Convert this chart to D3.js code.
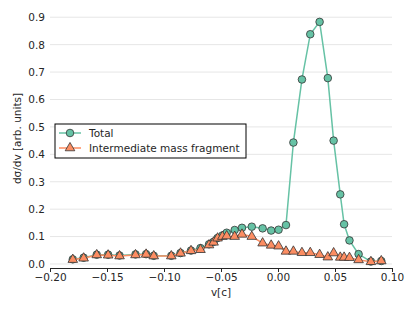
<!DOCTYPE html>
<meta charset="utf-8">
<style>
  body { margin: 0; background: #fff; font-family: 'DejaVu Sans', sans-serif; }
  .axis text { font-size: 10.5px; fill: #262626; font-family: 'DejaVu Sans', sans-serif; }
  .grid line { stroke: #e6e6e6; stroke-width: 1; }
  .axisLabel { font-size: 10.5px; fill: #262626; }
</style>
<body>
<div id="chart"></div>
<script src="https://d3js.org/d3.v7.min.js"></script>
<script>
// velocity bins [c]
var velocity = [-0.18, -0.1705, -0.159, -0.149, -0.139, -0.125, -0.1157, -0.109, -0.0936, -0.0855,
  -0.0763, -0.068, -0.0605, -0.0565, -0.053, -0.0488, -0.045, -0.038, -0.0316, -0.023,
  -0.0135, -0.006, 0.0005, 0.007, 0.0135, 0.021, 0.0283, 0.0365, 0.0437, 0.0488,
  0.0546, 0.058, 0.0627, 0.0707, 0.0815, 0.0906];

var total = [0.017, 0.023, 0.034, 0.034, 0.031, 0.035, 0.036, 0.030, 0.030, 0.040,
  0.049, 0.058, 0.072, 0.081, 0.095, 0.104, 0.114, 0.124, 0.132, 0.136,
  0.130, 0.122, 0.125, 0.142, 0.443, 0.673, 0.838, 0.883, 0.678, 0.450,
  0.254, 0.145, 0.086, 0.036, 0.009, 0.011];

var imf = [0.016, 0.021, 0.033, 0.032, 0.029, 0.033, 0.035, 0.029, 0.029, 0.039,
  0.048, 0.052, 0.069, 0.079, 0.094, 0.100, 0.102, 0.100, 0.108, 0.100,
  0.076, 0.068, 0.065, 0.046, 0.046, 0.041, 0.041, 0.034, 0.025, 0.040,
  0.024, 0.024, 0.023, 0.015, 0.008, 0.011];

var xTicks = [-0.20, -0.15, -0.10, -0.05, 0.00, 0.05, 0.10];
var yTicks = [0.0, 0.1, 0.2, 0.3, 0.4, 0.5, 0.6, 0.7, 0.8, 0.9];

var seriesNames = ["Total", "Intermediate mass fragment"];
var colors = ["#66c2a5", "#fc8d62"];

var width = 415, height = 313;
var margin = {top: 9, right: 23, bottom: 45, left: 50};

var svg = d3.select("#chart").append("svg")
  .attr("width", width)
  .attr("height", height);

var x = d3.scaleLinear().domain([-0.2, 0.1]).range([margin.left, width - margin.right]);
var y = d3.scaleLinear().domain([-0.0146, 0.93]).range([height - margin.bottom, margin.top]);

// horizontal grid
svg.append("g")
  .attr("class", "grid")
  .selectAll("line")
  .data(yTicks)
  .enter().append("line")
  .attr("x1", x.range()[0])
  .attr("x2", x.range()[1])
  .attr("y1", d => y(d))
  .attr("y2", d => y(d));

// y axis (labels only)
var yAxis = svg.append("g")
  .attr("class", "axis")
  .attr("transform", `translate(${margin.left},0)`)
  .call(d3.axisLeft(y).tickValues(yTicks).tickFormat(d3.format(".1f")).tickSize(0).tickPadding(5));
yAxis.select(".domain").remove();

// x axis
var xAxis = svg.append("g")
  .attr("class", "axis")
  .attr("transform", `translate(0,${height - margin.bottom})`)
  .call(d3.axisBottom(x).tickValues(xTicks).tickFormat(d3.format(".2f")).tickSize(4).tickPadding(2).tickSizeOuter(0));
xAxis.select(".domain").attr("stroke", "#262626").attr("stroke-width", 1.2);
xAxis.selectAll(".tick line").attr("stroke", "#262626");

var data = [total, imf].map(vals => vals.map((v, i) => ({v: velocity[i], y: v})));

var line = d3.line().x(d => x(d.v)).y(d => y(d.y));

// Total: line + circles
svg.append("path")
  .datum(data[0])
  .attr("fill", "none")
  .attr("stroke", colors[0])
  .attr("stroke-width", 1.5)
  .attr("d", line);

svg.selectAll(".dotTotal")
  .data(data[0])
  .enter().append("circle")
  .attr("class", "dotTotal")
  .attr("cx", d => x(d.v))
  .attr("cy", d => y(d.y))
  .attr("r", 3.8)
  .attr("fill", colors[0])
  .attr("stroke", "#333")
  .attr("stroke-width", 0.8);

// IMF: line + triangles
svg.append("path")
  .datum(data[1])
  .attr("fill", "none")
  .attr("stroke", colors[1])
  .attr("stroke-width", 1.5)
  .attr("d", line);

var tri = d3.symbol().type(d3.symbolTriangle).size(40);

svg.selectAll(".dotImf")
  .data(data[1])
  .enter().append("path")
  .attr("class", "dotImf")
  .attr("transform", d => `translate(${x(d.v)},${y(d.y)})`)
  .attr("d", tri)
  .attr("fill", colors[1])
  .attr("stroke", "#333")
  .attr("stroke-width", 0.8);

// axis labels
svg.append("text")
  .attr("class", "axisLabel")
  .attr("x", (x.range()[0] + x.range()[1]) / 2)
  .attr("y", 296)
  .attr("text-anchor", "middle")
  .text("v[c]");

svg.append("text")
  .attr("class", "axisLabel")
  .attr("transform", `translate(21,${(y.range()[0] + y.range()[1]) / 2}) rotate(-90)`)
  .attr("text-anchor", "middle")
  .text("dσ/dv [arb. units]");

// legend
var legend = svg.append("g").attr("transform", "translate(55,124)");
legend.append("rect")
  .attr("width", 191)
  .attr("height", 34)
  .attr("fill", "#fff")
  .attr("stroke", "#000")
  .attr("stroke-width", 1);

seriesNames.forEach(function(name, i) {
  var ly = 9 + i * 15;
  legend.append("line")
    .attr("x1", 4).attr("x2", 26)
    .attr("y1", ly).attr("y2", ly)
    .attr("stroke", colors[i])
    .attr("stroke-width", 1.5);
  if (i === 0) {
    legend.append("circle").attr("cx", 15).attr("cy", ly).attr("r", 3.8)
      .attr("fill", colors[0]).attr("stroke", "#333").attr("stroke-width", 0.8);
  } else {
    legend.append("path").attr("transform", `translate(15,${ly})`).attr("d", tri)
      .attr("fill", colors[1]).attr("stroke", "#333").attr("stroke-width", 0.8);
  }
  legend.append("text")
    .attr("x", 34)
    .attr("y", ly)
    .attr("dy", "0.35em")
    .style("font-size", "10.5px")
    .style("fill", "#262626")
    .text(name);
});
</script>
</body>
